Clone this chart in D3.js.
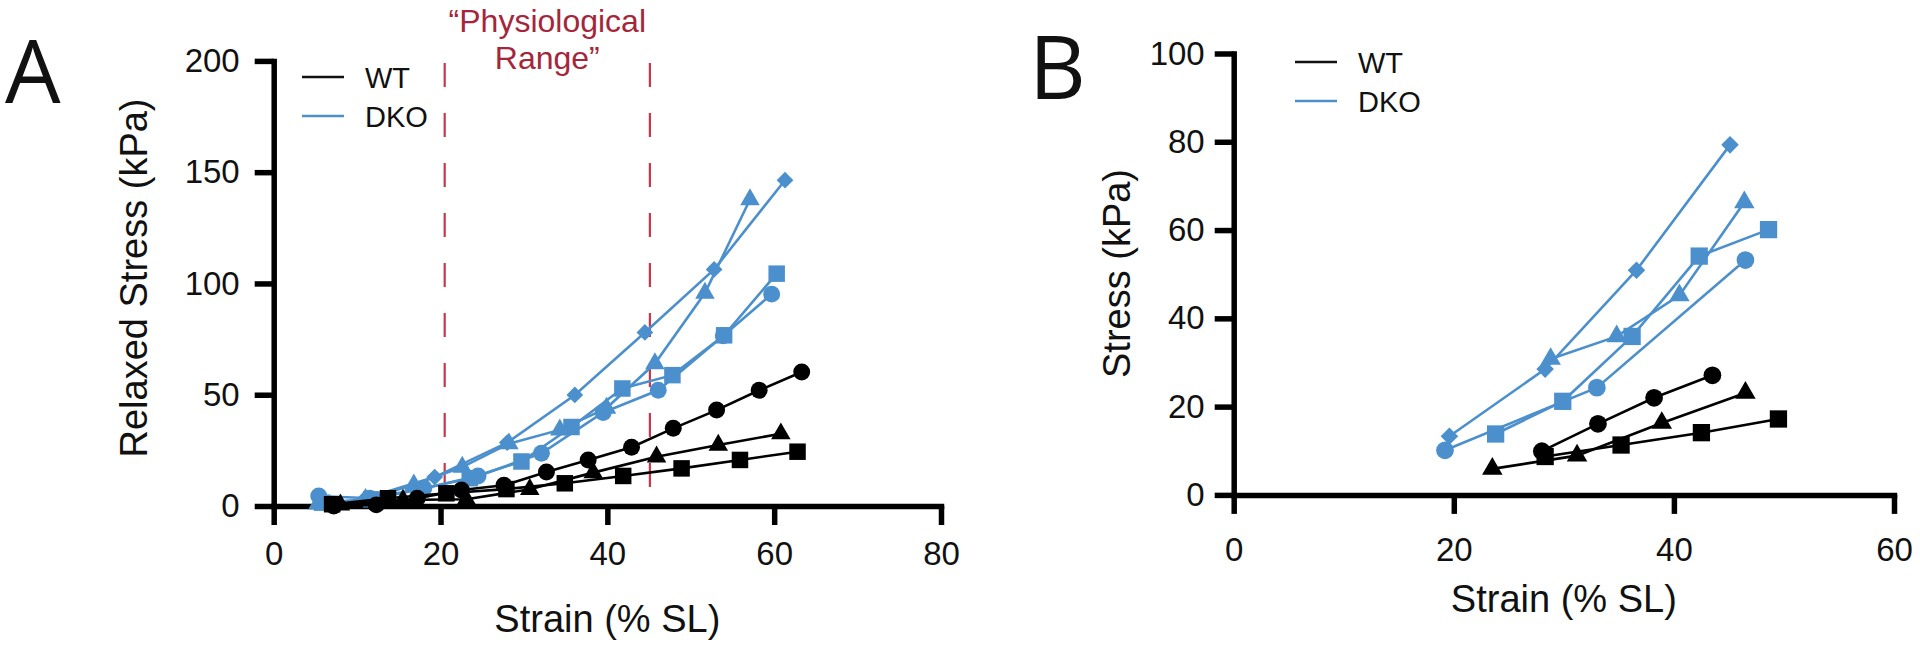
<!DOCTYPE html>
<html><head><meta charset="utf-8">
<script src="https://cdn.jsdelivr.net/npm/d3@7"></script>
<style>html,body{margin:0;padding:0;background:#fff;} svg{display:block;}</style>
</head><body>
<svg id="chart" width="1920" height="645"></svg>
<script>
// ---------- Panel A data (Relaxed Stress vs Strain) ----------
const aXTicks = [0, 20, 40, 60, 80];
const aYTicks = [0, 50, 100, 150, 200];
const aPhysRange = [20.5, 45.1];

const aDkoDiamondX = [11.0, 19.3, 28.0, 36.1, 44.5, 52.8, 61.3];
const aDkoDiamondY = [3.5, 13.0, 28.5, 49.9, 78.0, 106.3, 146.4];
const aDkoTriangleX = [5.3, 11.0, 16.8, 22.6, 28.2, 34.3, 39.9, 45.7, 51.7, 57.1];
const aDkoTriangleY = [1.0, 3.0, 9.5, 17.5, 28.0, 34.2, 44.0, 64.0, 95.7, 137.7];
const aDkoSquareX = [5.8, 11.7, 17.6, 23.5, 29.7, 35.7, 41.8, 47.8, 54.0, 60.3];
const aDkoSquareY = [1.5, 3.0, 7.5, 12.5, 20.0, 35.5, 52.8, 58.8, 76.7, 104.4];
const aDkoCircleX = [5.4, 11.5, 18.0, 24.5, 32.1, 39.5, 46.1, 53.9, 59.7];
const aDkoCircleY = [4.5, 3.5, 8.0, 13.5, 23.7, 42.0, 52.0, 76.5, 95.2];

const aWtCircleX = [7.2, 12.3, 17.2, 22.5, 27.6, 32.7, 37.7, 42.9, 47.9, 53.1, 58.2, 63.3];
const aWtCircleY = [0.0, 0.5, 3.5, 7.2, 9.3, 15.3, 20.7, 26.4, 34.9, 43.1, 52.0, 60.2];
const aWtTriangleX = [8.0, 15.5, 23.1, 30.7, 38.3, 45.9, 53.3, 60.8];
const aWtTriangleY = [0.5, 2.7, 3.0, 7.5, 15.0, 22.1, 27.4, 32.5];
const aWtSquareX = [7.0, 13.7, 20.7, 27.9, 34.9, 41.9, 48.9, 55.9, 62.8];
const aWtSquareY = [0.8, 3.5, 5.7, 7.6, 10.2, 13.5, 16.9, 20.7, 24.4];

// ---------- Panel B data (Stress vs Strain) ----------
const bXTicks = [0, 20, 40, 60];
const bYTicks = [0, 20, 40, 60, 80, 100];

const bDkoDiamondX = [19.6, 28.3, 36.6, 45.1];
const bDkoDiamondY = [13.3, 28.5, 50.9, 79.3];
const bDkoTriangleX = [28.8, 34.8, 40.5, 46.4];
const bDkoTriangleY = [30.8, 35.9, 45.2, 66.3];
const bDkoSquareX = [23.8, 29.9, 36.2, 42.3, 48.6];
const bDkoSquareY = [13.8, 21.2, 35.9, 54.1, 60.1];
const bDkoCircleX = [19.2, 33.0, 46.5];
const bDkoCircleY = [10.1, 24.3, 53.2];

const bWtCircleX = [28.0, 33.1, 38.2, 43.5];
const bWtCircleY = [9.9, 16.1, 22.0, 27.1];
const bWtTriangleX = [23.5, 31.2, 38.9, 46.5];
const bWtTriangleY = [5.9, 8.9, 16.3, 23.1];
const bWtSquareX = [28.3, 35.2, 42.5, 49.5];
const bWtSquareY = [8.7, 11.3, 14.1, 17.2];

const groups = ["WT", "DKO"];

// ---------- styling ----------
const BLUE = "#4b90cc";
const BLACK = "#000";
const RED_LINE = "#c9374d";
const RED_TEXT = "#a5263b";
const FONT = "'Liberation Sans', Arial, Helvetica, sans-serif";
const LETTER_FONT = "'Open Sans', 'DejaVu Sans', sans-serif";

const svg = d3.select("#chart");

function zip(xs, ys) { return xs.map((x, i) => ({x: x, y: ys[i]})); }

function markerPath(shape, big) {
  const k = big ? 1.1 : 1.0;
  if (shape === "circle") return d3.symbol(d3.symbolCircle, 225 * k)();
  if (shape === "square") return d3.symbol(d3.symbolSquare, 272 * k)();
  if (shape === "triangle") return d3.symbol(d3.symbolTriangle, 165 * k)();
  return d3.symbol(d3.symbolSquare, 140 * k)();
}

function drawPanel(cfg) {
  const g = svg.append("g");
  const x = d3.scaleLinear().domain(cfg.xDomain).range(cfg.xRange);
  const y = d3.scaleLinear().domain(cfg.yDomain).range(cfg.yRange);

  if (cfg.physRange) {
    g.selectAll("line.phys").data(cfg.physRange).enter().append("line")
      .attr("x1", d => x(d)).attr("x2", d => x(d))
      .attr("y1", y(cfg.yDomain[1]) + 2).attr("y2", y(0))
      .attr("stroke", RED_LINE).attr("stroke-width", 2.2)
      .attr("stroke-dasharray", "24,26");
  }

  const yAxis = d3.axisLeft(y).tickValues(cfg.yTicks).tickSize(19).tickSizeOuter(0).tickPadding(cfg.yPad);
  const xAxis = d3.axisBottom(x).tickValues(cfg.xTicks).tickSize(19).tickSizeOuter(0).tickPadding(cfg.xPad);
  const gy = g.append("g").attr("transform", `translate(${cfg.xRange[0]},0)`).call(yAxis);
  const gx = g.append("g").attr("transform", `translate(0,${y(0)})`).call(xAxis);
  [gx, gy].forEach(a => {
    a.select(".domain").attr("stroke", "#000").attr("stroke-width", 5.5).attr("stroke-linecap", "square");
    a.selectAll(".tick line").attr("stroke", "#000").attr("stroke-width", 5.5);
    a.selectAll(".tick text").attr("font-family", FONT).attr("font-size", 33).attr("fill", "#111");
  });

  const line = d3.line().x(d => x(d.x)).y(d => y(d.y));
  cfg.series.forEach(s => {
    const col = s.group === "DKO" ? BLUE : BLACK;
    const pts = zip(s.xs, s.ys);
    g.append("path").datum(pts).attr("d", line)
      .attr("fill", "none").attr("stroke", col).attr("stroke-width", 2.6);
    g.selectAll(null).data(pts).enter().append("path")
      .attr("d", markerPath(s.shape, cfg.big))
      .attr("transform", d => `translate(${x(d.x)},${y(d.y)})` + (s.shape === "diamond" ? " rotate(45)" : ""))
      .attr("fill", col);
  });

  g.append("text").attr("x", (cfg.xRange[0] + cfg.xRange[1]) / 2).attr("y", cfg.xTitleY)
    .attr("text-anchor", "middle").attr("font-family", FONT).attr("font-size", 38).attr("fill", "#111")
    .text("Strain (% SL)");
  g.append("text").attr("transform", `translate(${cfg.yTitleX},${cfg.yTitleY}) rotate(-90)`)
    .attr("dy", "0.35em").attr("text-anchor", "middle").attr("font-family", FONT).attr("font-size", 38).attr("fill", "#111")
    .text(cfg.yTitle);

  const lg = g.append("g");
  groups.forEach((name, i) => {
    const ly = cfg.legendY[i];
    lg.append("line").attr("x1", cfg.legendX).attr("x2", cfg.legendX + 42).attr("y1", ly).attr("y2", ly)
      .attr("stroke", name === "DKO" ? BLUE : "#111").attr("stroke-width", 2.4);
    lg.append("text").attr("x", cfg.legendX + 63).attr("y", ly + 10.5)
      .attr("font-family", FONT).attr("font-size", 29).attr("fill", "#111").text(name);
  });

  g.append("text").attr("x", cfg.letterX).attr("y", cfg.letterY)
    .attr("font-family", LETTER_FONT).attr("font-size", 88).attr("fill", "#111").text(cfg.letter);
  return {g, x, y};
}

const pA = drawPanel({
  letter: "A", letterX: 5, letterY: 103,
  xDomain: [0, 80], xRange: [273.7, 941], yDomain: [0, 200], yRange: [506, 60.9],
  xTicks: aXTicks, yTicks: aYTicks, xPad: 17, yPad: 15,
  physRange: aPhysRange,
  xTitleY: 632, yTitle: "Relaxed Stress (kPa)", yTitleX: 134, yTitleY: 278,
  legendX: 302, legendY: [77, 116], big: false,
  series: [
    {group: "DKO", shape: "circle", xs: aDkoCircleX, ys: aDkoCircleY},
    {group: "DKO", shape: "square", xs: aDkoSquareX, ys: aDkoSquareY},
    {group: "DKO", shape: "triangle", xs: aDkoTriangleX, ys: aDkoTriangleY},
    {group: "DKO", shape: "diamond", xs: aDkoDiamondX, ys: aDkoDiamondY},
    {group: "WT", shape: "circle", xs: aWtCircleX, ys: aWtCircleY},
    {group: "WT", shape: "triangle", xs: aWtTriangleX, ys: aWtTriangleY},
    {group: "WT", shape: "square", xs: aWtSquareX, ys: aWtSquareY}
  ]
});

const physMid = (pA.x(aPhysRange[0]) + pA.x(aPhysRange[1])) / 2;
svg.append("text").attr("x", physMid).attr("y", 32).attr("text-anchor", "middle")
  .attr("font-family", FONT).attr("font-size", 32).attr("fill", RED_TEXT).text("\u201CPhysiological");
svg.append("text").attr("x", physMid).attr("y", 69).attr("text-anchor", "middle")
  .attr("font-family", FONT).attr("font-size", 32).attr("fill", RED_TEXT).text("Range\u201D");

drawPanel({
  letter: "B", letterX: 1029, letterY: 99,
  xDomain: [0, 60], xRange: [1233.7, 1894], yDomain: [0, 100], yRange: [494.9, 53.5],
  xTicks: bXTicks, yTicks: bYTicks, xPad: 24, yPad: 10,
  xTitleY: 612, yTitle: "Stress (kPa)", yTitleX: 1117, yTitleY: 273.5,
  legendX: 1295, legendY: [62, 101], big: true,
  series: [
    {group: "DKO", shape: "circle", xs: bDkoCircleX, ys: bDkoCircleY},
    {group: "DKO", shape: "square", xs: bDkoSquareX, ys: bDkoSquareY},
    {group: "DKO", shape: "triangle", xs: bDkoTriangleX, ys: bDkoTriangleY},
    {group: "DKO", shape: "diamond", xs: bDkoDiamondX, ys: bDkoDiamondY},
    {group: "WT", shape: "circle", xs: bWtCircleX, ys: bWtCircleY},
    {group: "WT", shape: "triangle", xs: bWtTriangleX, ys: bWtTriangleY},
    {group: "WT", shape: "square", xs: bWtSquareX, ys: bWtSquareY}
  ]
});
</script>
</body></html>
